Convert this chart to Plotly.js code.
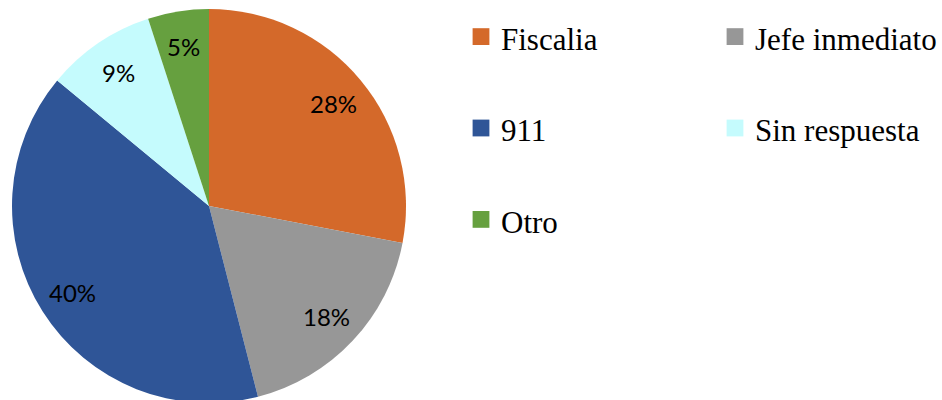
<!DOCTYPE html>
<html>
<head>
<meta charset="utf-8">
<script src="https://cdn.plot.ly/plotly-3.0.1.min.js"></script>
<style>
	html, body { margin: 0; padding: 0; overflow: hidden; background: #fff; }
	#chart { width: 942px; height: 406px; }
</style>
</head>
<body>
<div id="chart"></div>
<script>
var categories = ['Fiscalia', 'Jefe inmediato', '911', 'Sin respuesta', 'Otro'];
var shares = [28, 18, 40, 9, 5];
var sliceColors = ['#D4692A', '#979797', '#2F5597', '#C5FBFD', '#66A03F'];

var W = 942;
var H = 406;
var PLOT_W = 600; // narrower plot area so the legend wraps to two columns

// pie placement, in pixels
var PIE_LEFT = 12, PIE_RIGHT = 406, PIE_TOP = 9, PIE_BOTTOM = 403;
var LABEL_R = 0.82; // label distance from centre, as part of the radius

// legend rows in the reference are far apart; pad each label with an empty line
var legendLabels = categories.map(c => '<span style="font-size:31px">' + c + '</span><br> ');

function percentLabels(){
	var total = shares.reduce((a, b) => a + b, 0);
	var cx = (PIE_LEFT + PIE_RIGHT) / 2;
	var cy = (PIE_TOP + PIE_BOTTOM) / 2;
	var r = (PIE_RIGHT - PIE_LEFT) / 2;
	var acc = 0;
	return shares.map(v => {
		var mid = (acc + v / 2) / total * 2 * Math.PI;
		acc += v;
		var px = cx + LABEL_R * r * Math.sin(mid);
		var py = cy - LABEL_R * r * Math.cos(mid);
		return {
			x: px / PLOT_W,
			y: 1 - py / H,
			xref: 'paper',
			yref: 'paper',
			text: Math.round(v / total * 100) + '%',
			showarrow: false,
			xanchor: 'center',
			yanchor: 'middle',
			font: { family: 'Lato, "Open Sans", sans-serif', size: 24, color: '#000' }
		};
	});
}

var data = [{
	type: 'pie',
	labels: legendLabels,
	values: shares,
	sort: false,
	direction: 'clockwise',
	rotation: 0,
	textinfo: 'none',
	marker: { colors: sliceColors, line: { width: 0 } },
	domain: {
		x: [PIE_LEFT / PLOT_W, PIE_RIGHT / PLOT_W],
		y: [1 - PIE_BOTTOM / H, 1 - PIE_TOP / H]
	},
	hoverinfo: 'none'
}];

var layout = {
	width: W,
	height: H,
	margin: { l: 0, r: W - PLOT_W, t: 0, b: 0, autoexpand: false },
	paper_bgcolor: '#fff',
	showlegend: true,
	legend: {
		orientation: 'h',
		x: 461 / PLOT_W,
		xanchor: 'left',
		y: 1 - 8 / H,
		yanchor: 'top',
		maxheight: 1,
		entrywidth: 209,
		entrywidthmode: 'pixels',
		valign: 'top',
		font: { family: '"Liberation Serif", "Times New Roman", serif', size: 34, color: '#000' }
	},
	annotations: percentLabels()
};

Plotly.newPlot('chart', data, layout, { displayModeBar: false, staticPlot: true }).then(gd => {
	// the reference uses bigger legend squares
	gd.querySelectorAll('.legendpoints path.legendpie').forEach(p => {
		p.setAttribute('transform', 'translate(20,0) scale(1.4)');
	});
});
</script>
</body>
</html>
